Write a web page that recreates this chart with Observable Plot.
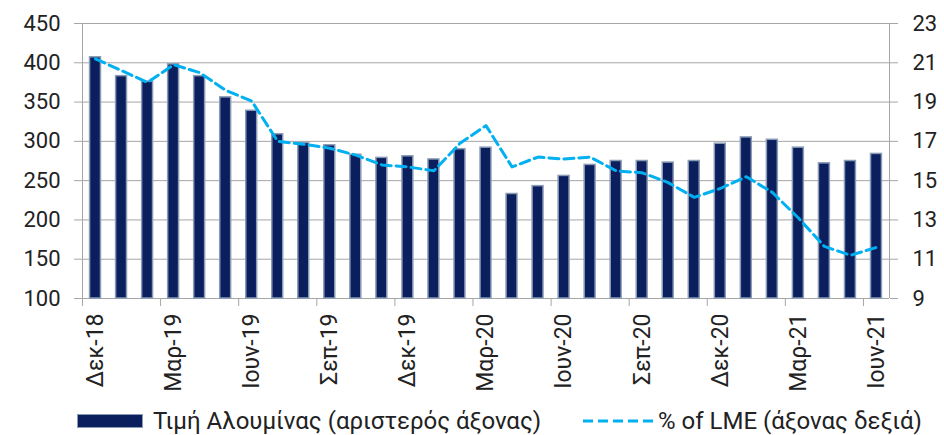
<!DOCTYPE html>
<html>
<head>
<meta charset="utf-8">
<script src="https://cdn.jsdelivr.net/npm/d3@7"></script>
<script src="https://cdn.jsdelivr.net/npm/@observablehq/plot@0.6"></script>
<style>
  html, body { margin: 0; padding: 0; background: #fff; }
  body { width: 944px; height: 435px; position: relative; font-family: Roboto, sans-serif; color: #222; overflow: hidden; }
  #chart { position: absolute; left: 0; top: 0; }
  #legend { position: absolute; left: 0; top: 400px; width: 944px; height: 35px; font-size: 24px; color: #222; }
  .item { position: absolute; top: 8px; display: flex; align-items: center; height: 26px; white-space: nowrap; }
  .sw-bar { width: 64px; height: 12px; background: #0b1f5e; border: 1.5px solid #8a9bb5; margin-right: 10px; }
</style>
</head>
<body>
<div id="chart"></div>
<div id="legend">
  <div class="item" style="left:77px"><div class="sw-bar"></div><span id="lg1">Τιμή Αλουμίνας (αριστερός άξονας)</span></div>
  <div class="item" style="left:583px"><svg width="72" height="10" style="margin-right:3px"><line x1="0" y1="5" x2="72" y2="5" stroke="#00b0f0" stroke-width="3" stroke-dasharray="10,5"/></svg><span id="lg2">% of LME (άξονας δεξιά)</span></div>
</div>
<script>
const months = ["Δεκ-18","Ιαν-19","Φεβ-19","Μαρ-19","Απρ-19","Μαϊ-19","Ιουν-19","Ιουλ-19","Αυγ-19","Σεπ-19","Οκτ-19","Νοε-19","Δεκ-19","Ιαν-20","Φεβ-20","Μαρ-20","Απρ-20","Μαϊ-20","Ιουν-20","Ιουλ-20","Αυγ-20","Σεπ-20","Οκτ-20","Νοε-20","Δεκ-20","Ιαν-21","Φεβ-21","Μαρ-21","Απρ-21","Μαϊ-21","Ιουν-21"];
const aluminaPrice = [407,383,376,398,383,356,339,309,298,295,283,279,281,277,290,292,233,243,256,270,275,275,273,275,297,305,302,292,272,275,284];
const lmePct = [21.2,20.6,20.0,20.9,20.5,19.6,19.05,17.0,16.85,16.65,16.3,15.8,15.7,15.5,16.9,17.8,15.7,16.2,16.1,16.2,15.5,15.4,14.9,14.15,14.6,15.2,14.4,13.1,11.65,11.2,11.6];
const leftTicks = [100,150,200,250,300,350,400,450];
const rightTicks = [9,11,13,15,17,19,21,23];
const labelEvery = 3;

const toLeft = v => 100 + (v - 9) * 25; // map right axis (9..23) onto left (100..450)
const idx = d3.range(months.length);
const tickIdx = idx.filter(i => i % labelEvery === 0);
const grid = "#a6a6a6";

const chart = Plot.plot({
  width: 944,
  height: 400,
  marginLeft: 82,
  marginRight: 55,
  marginTop: 23,
  marginBottom: 102,
  style: {fontFamily: "Roboto, sans-serif", fontSize: "22px", color: "#222", background: "#fff"},
  x: {type: "linear", domain: [0, months.length]},
  y: {domain: [100, 450]},
  marks: [
    Plot.ruleY(leftTicks, {stroke: grid, strokeWidth: 1}),
    Plot.axisY({anchor: "left", ticks: leftTicks, tickSize: 8, tickPadding: 14, stroke: grid, fontSize: 22, label: null}),
    Plot.axisY({anchor: "right", ticks: leftTicks, tickSize: 8, tickPadding: 15, stroke: grid, fontSize: 22, label: null,
      tickFormat: d => rightTicks[leftTicks.indexOf(d)]}),
    Plot.ruleX([0, months.length], {y1: 100, y2: 450, stroke: grid, strokeWidth: 1}),
    Plot.axisX({ticks: tickIdx, tickSize: 8, stroke: grid, tickFormat: () => "", label: null}),
    Plot.axisX({ticks: tickIdx.map(i => i + 0.5), tickSize: 0, tickPadding: 15, tickRotate: -90, fontSize: 23, label: null,
      tickFormat: d => months[Math.floor(d)]}),
    Plot.rect(idx, {x1: i => i + 0.29, x2: i => i + 0.71, y1: () => 100, y2: i => aluminaPrice[i],
      fill: "#0b1f5e", stroke: "#8a9bb5", strokeWidth: 1.5}),
    Plot.line(idx, {x: i => i + 0.5, y: i => toLeft(lmePct[i]), stroke: "#00b0f0", strokeWidth: 3, strokeDasharray: "10,5"})
  ]
});
document.getElementById("chart").appendChild(chart);
</script>
</body>
</html>
